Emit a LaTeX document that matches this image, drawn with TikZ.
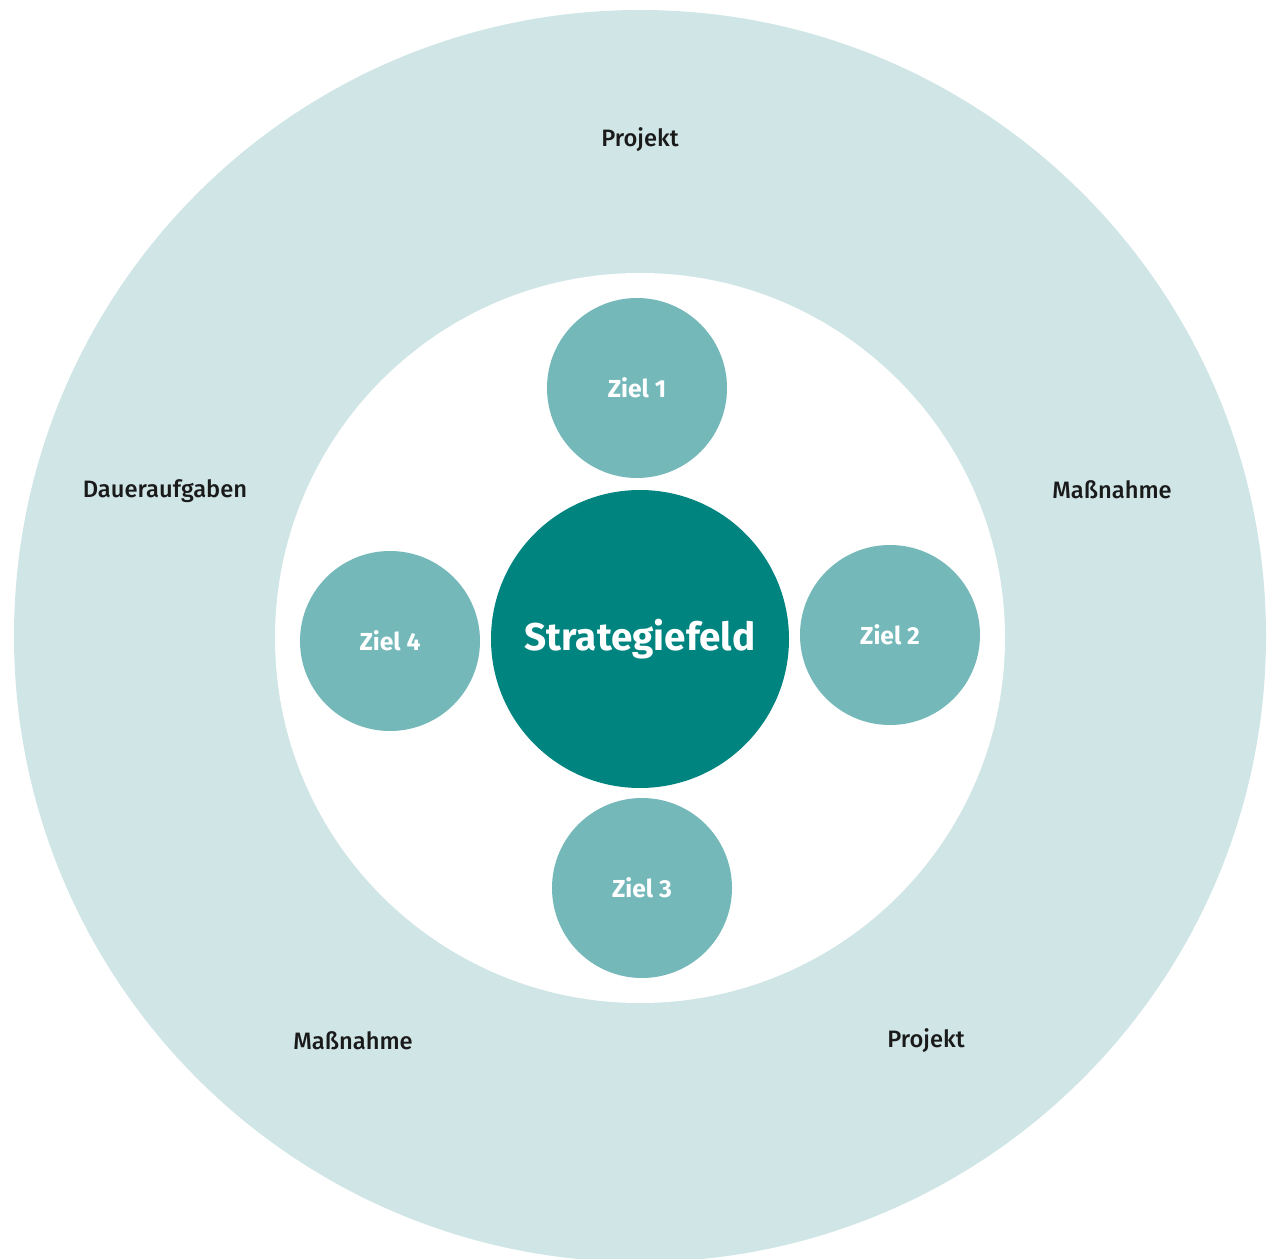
\documentclass[tikz,border=0pt]{standalone}
\usepackage{fontspec}
\setmainfont{Fira Sans}
\newfontfamily\ringfont{Fira Sans Medium}
\definecolor{ringcol}{HTML}{D0E5E6}
\definecolor{zielcol}{HTML}{74B8B9}
\definecolor{feldcol}{HTML}{00847F}
\definecolor{textcol}{HTML}{1A1A1A}
\tikzset{
ziel/.style={circle,fill=zielcol,minimum size=3.6cm,inner sep=0pt,text=white,font=\fontsize{14}{16}\selectfont\bfseries},
ringtext/.style={text=textcol,font=\fontsize{13.5}{16}\selectfont\ringfont}
}
\begin{document}
\begin{tikzpicture}
\useasboundingbox (0,0) rectangle (25.34,-25.18);
\fill [ringcol] (12.8,-12.72) circle (12.52);
\fill [white] (12.8,-12.76) circle (7.3);

\node [circle,fill=feldcol,minimum size=5.96cm,inner sep=0pt,text=white,font=\fontsize{22}{26}\selectfont\bfseries] (feld) at (12.8,-12.78) {Strategiefeld};
\node [ziel] (ziel1) at (12.74,-7.76) {Ziel 1};
\node [ziel] (ziel2) at (17.8,-12.7) {Ziel 2};
\node [ziel] (ziel3) at (12.84,-17.76) {Ziel 3};
\node [ziel] (ziel4) at (7.8,-12.82) {Ziel 4};

\node [ringtext] (projekt1) at (12.8,-2.8) {Projekt};
\node [ringtext] (dauer) at (3.3,-9.82) {Daueraufgaben};
\node [ringtext] (massn1) at (22.24,-9.8) {Maßnahme};
\node [ringtext] (massn2) at (7.06,-20.82) {Maßnahme};
\node [ringtext] (projekt2) at (18.52,-20.82) {Projekt};

\end{tikzpicture}
\end{document}
